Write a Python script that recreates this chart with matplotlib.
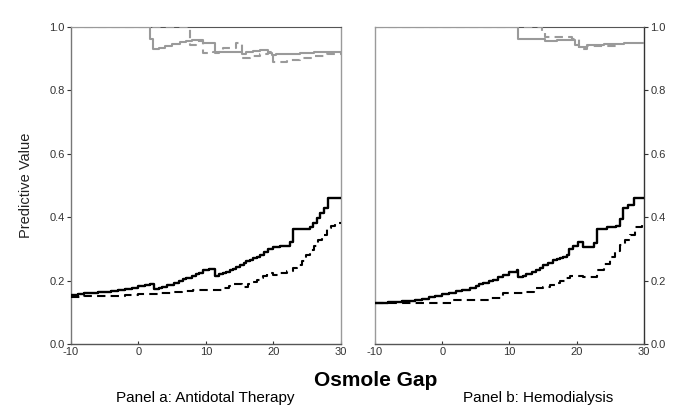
import matplotlib
matplotlib.use("Agg")
import matplotlib.pyplot as plt

plt.rcParams['font.family'] = ['Liberation Sans', 'DejaVu Sans']
plt.rcParams['axes.unicode_minus'] = False

# Panel a: antidotal therapy -- (osmole gap, predictive value) step knots
a_ppv_x = [-10, -9, -8, -7, -6, -5, -4, -3, -2, -1, 0, 1, 1.7, 2.3, 3, 3.5, 4.3, 5.2, 6, 6.6, 7.1,
           8, 8.6, 9, 9.6, 10.5, 11.3, 12, 12.6, 13, 13.6, 14, 14.5, 15, 15.6, 16, 16.6, 17, 17.6,
           18, 18.6, 19.2, 20, 21, 22.4, 22.9, 24, 25.4, 25.9, 26.4, 26.9, 27.5, 28.1, 30]
a_ppv_y = [0.155, 0.157, 0.160, 0.161, 0.163, 0.165, 0.167, 0.170, 0.174, 0.178, 0.183, 0.187,
           0.190, 0.175, 0.176, 0.180, 0.186, 0.193, 0.200, 0.204, 0.207, 0.215, 0.220, 0.225,
           0.235, 0.238, 0.214, 0.220, 0.224, 0.228, 0.233, 0.238, 0.243, 0.249, 0.256, 0.262,
           0.266, 0.270, 0.275, 0.280, 0.290, 0.300, 0.305, 0.310, 0.323, 0.363, 0.363, 0.370,
           0.383, 0.397, 0.415, 0.428, 0.462, 0.462]
a_ppv_dash_x = [-10, -8, -6, -4, -2, 0, 1.5, 3, 5.2, 6.5, 8.1, 10, 11.6, 12.5, 13.4, 14, 14.5, 15.3,
                16.2, 17, 17.6, 18, 18.5, 19, 20, 21, 22, 22.9, 23.5, 24.2, 24.9, 25.4, 26, 26.6,
                27.2, 27.9, 28.5, 29.2, 30]
a_ppv_dash_y = [0.149, 0.150, 0.151, 0.153, 0.155, 0.158, 0.159, 0.160, 0.163, 0.168, 0.170, 0.170,
                0.171, 0.176, 0.183, 0.190, 0.190, 0.180, 0.190, 0.197, 0.203, 0.208, 0.215, 0.225,
                0.218, 0.224, 0.230, 0.239, 0.248, 0.262, 0.280, 0.297, 0.310, 0.328, 0.345, 0.365,
                0.372, 0.383, 0.386]
a_npv_x = [-10, 1.7, 2.2, 3, 4, 5, 6.1, 7, 8, 9.6, 11.3, 12, 13, 14, 15.3, 16, 17, 18, 19.2, 19.8,
           20.4, 22, 24, 26, 28, 30]
a_npv_y = [1.0, 0.961, 0.930, 0.934, 0.940, 0.946, 0.954, 0.956, 0.958, 0.950, 0.919, 0.920, 0.921,
           0.923, 0.916, 0.922, 0.926, 0.928, 0.919, 0.912, 0.914, 0.916, 0.918, 0.920, 0.921, 0.922]
a_npv_dash_x = [-10, 7.6, 8.5, 9.6, 11, 12.5, 14.5, 15.3, 16.5, 18, 19.2, 20, 22, 24, 26, 28, 30]
a_npv_dash_y = [1.0, 0.945, 0.955, 0.917, 0.922, 0.935, 0.949, 0.901, 0.910, 0.915, 0.920, 0.890,
                0.895, 0.902, 0.910, 0.916, 0.920]

# Panel b: hemodialysis
b_ppv_x = [-10, -8, -6, -4, -3, -2, -1, 0, 1, 2, 3, 4.1, 5, 5.5, 6.1, 7, 7.5, 8.3, 9.1, 10, 11.1,
           11.3, 12, 12.5, 13.3, 14, 14.5, 15, 15.8, 16.5, 17, 17.5, 18, 18.5, 18.8, 19.5, 20.2,
           21, 22.5, 23, 24.5, 25.9, 26.4, 26.9, 27.6, 28.5, 30]
b_ppv_y = [0.130, 0.133, 0.136, 0.140, 0.143, 0.147, 0.152, 0.158, 0.161, 0.166, 0.171, 0.176,
           0.184, 0.188, 0.191, 0.198, 0.203, 0.210, 0.218, 0.226, 0.233, 0.212, 0.216, 0.220,
           0.226, 0.232, 0.240, 0.249, 0.257, 0.265, 0.268, 0.272, 0.276, 0.280, 0.300, 0.310,
           0.323, 0.305, 0.318, 0.363, 0.370, 0.373, 0.396, 0.428, 0.440, 0.462, 0.462]
b_ppv_dash_x = [-10, 1.4, 6.9, 9.1, 12, 13.6, 15, 16, 16.8, 17.5, 18.2, 19, 21, 23, 24, 25, 25.7,
                26.4, 27.2, 27.9, 28.7, 29.7, 30]
b_ppv_dash_y = [0.128, 0.139, 0.146, 0.160, 0.165, 0.176, 0.181, 0.186, 0.193, 0.200, 0.207, 0.215,
                0.212, 0.233, 0.252, 0.275, 0.293, 0.312, 0.328, 0.344, 0.370, 0.380, 0.380]
b_npv_x = [-10, 11.3, 13, 15.3, 17, 19.3, 19.8, 20.3, 21.5, 24, 27, 30]
b_npv_y = [1.0, 0.964, 0.962, 0.957, 0.960, 0.958, 0.945, 0.938, 0.945, 0.947, 0.949, 0.950]
b_npv_dash_x = [-10, 14.8, 15.3, 18.3, 19.3, 20.3, 21.5, 26]
b_npv_dash_y = [1.0, 0.980, 0.970, 0.970, 0.964, 0.930, 0.940, 0.940]

GRAY = '#9a9a9a'
fig = plt.figure(figsize=(6.85, 4.17), dpi=100)
ax_a = fig.add_axes([0.1036, 0.175, 0.394, 0.760])
ax_b = fig.add_axes([0.5474, 0.175, 0.3927, 0.760])

panels = [
    (ax_a, a_ppv_x, a_ppv_y, a_ppv_dash_x, a_ppv_dash_y, a_npv_x, a_npv_y, a_npv_dash_x, a_npv_dash_y),
    (ax_b, b_ppv_x, b_ppv_y, b_ppv_dash_x, b_ppv_dash_y, b_npv_x, b_npv_y, b_npv_dash_x, b_npv_dash_y),
]
for ax, px, py, pdx, pdy, nx, ny, ndx, ndy in panels:
    ax.plot(nx, ny, color=GRAY, lw=1.5, drawstyle='steps-post', zorder=3)
    ax.plot(ndx, ndy, color=GRAY, lw=1.5, ls=(0, (4, 2.5)), drawstyle='steps-post', zorder=3)
    ax.plot(px, py, color='black', lw=1.7, drawstyle='steps-post', zorder=3)
    ax.plot(pdx, pdy, color='black', lw=1.5, ls=(0, (4, 2.5)), drawstyle='steps-post', zorder=3)
    ax.set_xlim(-10, 30)
    ax.set_ylim(0, 1)
    ax.set_xticks([-10, 0, 10, 20, 30])
    ax.set_yticks([0, 0.2, 0.4, 0.6, 0.8, 1.0])
    ax.set_yticklabels(['0.0', '0.2', '0.4', '0.6', '0.8', '1.0'])
    ax.tick_params(labelsize=8, length=3, width=0.8, colors='#333333', pad=1.5)
    ax.tick_params(axis='x', direction='in', length=2.5, pad=2)
    ax.spines['top'].set_color('#555555')
    ax.spines['top'].set_linewidth(0.8)
    for s in ['left', 'right', 'bottom']:
        ax.spines[s].set_linewidth(1.0)
    ax.spines['bottom'].set_color('#555555')

ax_a.spines['left'].set_color('#777777')
ax_a.spines['right'].set_color(GRAY)
ax_b.spines['left'].set_color(GRAY)
ax_b.spines['right'].set_color('#333333')
ax_b.yaxis.tick_right()
ax_a.set_ylabel('Predictive Value', fontsize=10.5, color='#222222', labelpad=12)

fig.text(0.549, 0.088, 'Osmole Gap', fontsize=15, fontweight='bold', ha='center', va='center')
fig.text(0.300, 0.045, 'Panel a: Antidotal Therapy', fontsize=11, ha='center', va='center')
fig.text(0.785, 0.045, 'Panel b: Hemodialysis', fontsize=11, ha='center', va='center')

fig.savefig('out.png', dpi=100)
